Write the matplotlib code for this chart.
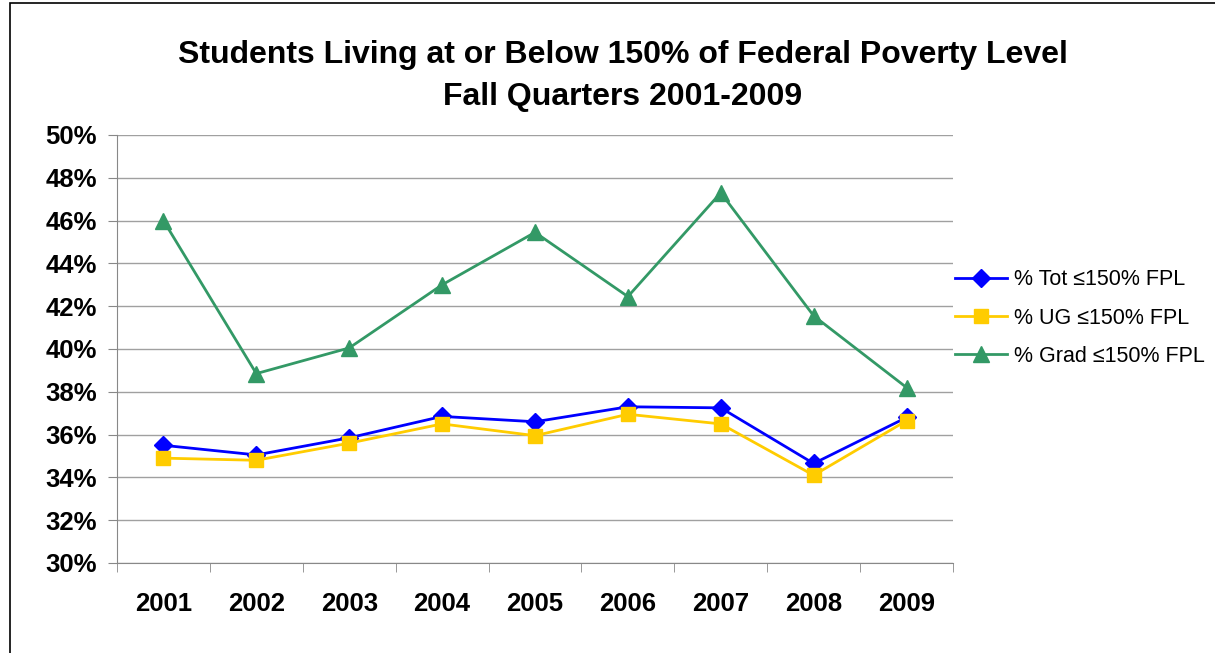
import matplotlib
matplotlib.use("Agg")
import matplotlib.pyplot as plt
from matplotlib.patches import Rectangle
from matplotlib.ticker import FuncFormatter, FixedLocator

years = ["2001", "2002", "2003", "2004", "2005", "2006", "2007", "2008", "2009"]
tot = [35.5, 35.05, 35.85, 36.85, 36.6, 37.3, 37.25, 34.65, 36.8]
ug = [34.9, 34.8, 35.6, 36.5, 35.95, 36.95, 36.5, 34.1, 36.65]
grad = [46.0, 38.85, 40.05, 43.0, 45.45, 42.45, 47.3, 41.55, 38.2]

labels = ["% Tot \u2264150% FPL", "% UG \u2264150% FPL", "% Grad \u2264150% FPL"]

plt.rcParams["font.family"] = ["Liberation Sans", "DejaVu Sans"]

fig = plt.figure(figsize=(12.15, 6.53), dpi=100)
ax = fig.add_axes([117 / 1215, 1 - 563 / 653, (953 - 117) / 1215, (563 - 135) / 653])

x = list(range(len(years)))
ax.plot(x, tot, color="#0000FF", marker="D", markersize=9.5, linewidth=2, label=labels[0])
ax.plot(x, ug, color="#FFCC00", marker="s", markersize=10, linewidth=2, label=labels[1])
ax.plot(x, grad, color="#339966", marker="^", markersize=11, linewidth=2, label=labels[2])

ax.set_xlim(-0.5, len(years) - 0.5)
ax.set_ylim(30, 50)
ax.set_yticks(range(30, 51, 2))
ax.yaxis.set_major_formatter(FuncFormatter(lambda v, p: f"{int(v)}%"))
ax.set_xticks(x)
ax.set_xticklabels(years)
ax.xaxis.set_minor_locator(FixedLocator([i - 0.5 for i in range(len(years) + 1)]))
ax.tick_params(axis="x", which="major", length=0, pad=21)
ax.tick_params(axis="x", which="minor", length=6.5, color="#888888", direction="out")
ax.tick_params(axis="y", length=6.5, color="#888888", direction="out", pad=8)
for lab in ax.get_xticklabels() + ax.get_yticklabels():
    lab.set_fontsize(18.5)
    lab.set_fontweight("bold")

ax.grid(axis="y", color="#A0A0A0", linewidth=1)
ax.set_axisbelow(True)
for s in ["top", "right"]:
    ax.spines[s].set_visible(False)
for s in ["left", "bottom"]:
    ax.spines[s].set_color("#888888")

fig.text(623 / 1215, 1 - 55 / 653, "Students Living at or Below 150% of Federal Poverty Level",
         ha="center", va="center", fontsize=23, fontweight="bold")
fig.text(623 / 1215, 1 - 97 / 653, "Fall Quarters 2001-2009",
         ha="center", va="center", fontsize=23, fontweight="bold")

fig.legend(loc="center left", bbox_to_anchor=(936 / 1215, 1 - 318 / 653), frameon=False,
           fontsize=15.5, handlelength=2.4, handletextpad=0.3, labelspacing=0.8)

fig.add_artist(Rectangle((10 / 1215, -0.1), 1.5, 1.1 - 3 / 653, transform=fig.transFigure,
                         fill=False, edgecolor="black", linewidth=1.2))

fig.savefig("out.png", dpi=100)
